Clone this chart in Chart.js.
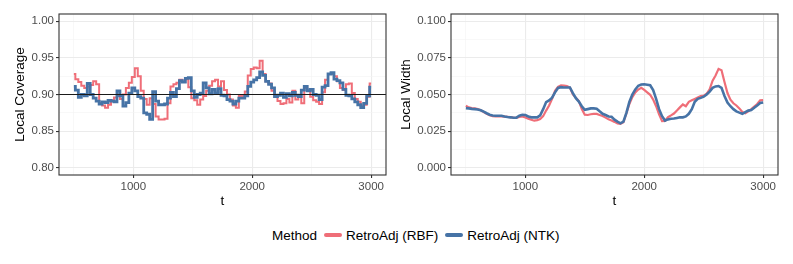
<!DOCTYPE html>
<html lang="en">
<head>
<meta charset="UTF-8">
<title>Local coverage and width</title>
<script src="https://cdn.jsdelivr.net/npm/chart.js"></script>
<style>
  body { margin: 0; background: #fff; font-family: 'Liberation Sans', Arial, sans-serif; }
  #wrap { position: relative; width: 793px; height: 264px; }
  #left { position: absolute; left: 0; top: 0; }
  #right { position: absolute; left: 395px; top: 0; }
  #legend { position: absolute; left: 272px; top: 226px; height: 18px; display: flex; align-items: center; font-size: 13.5px; color: #000; white-space: nowrap; }
  .key { display: inline-block; width: 18px; height: 4.5px; border-radius: 3px; margin: 0 4px 0 7px; }
</style>
</head>
<body>
<div id="wrap">
  <canvas id="left" width="395" height="210"></canvas>
  <canvas id="right" width="398" height="210"></canvas>
  <div id="legend">
    <span>Method</span>
    <span class="key" style="background:#EF6E78"></span><span>RetroAdj (RBF)</span>
    <span class="key" style="background:#4673A6"></span><span>RetroAdj (NTK)</span>
  </div>
</div>
<script>
// time index
const t = [
  500, 525, 550, 575, 600, 625, 650, 675, 700, 725,
  750, 775, 800, 825, 850, 875, 900, 925, 950, 975,
  1000, 1025, 1050, 1075, 1100, 1125, 1150, 1175, 1200, 1225,
  1250, 1275, 1300, 1325, 1350, 1375, 1400, 1425, 1450, 1475,
  1500, 1525, 1550, 1575, 1600, 1625, 1650, 1675, 1700, 1725,
  1750, 1775, 1800, 1825, 1850, 1875, 1900, 1925, 1950, 1975,
  2000, 2025, 2050, 2075, 2100, 2125, 2150, 2175, 2200, 2225,
  2250, 2275, 2300, 2325, 2350, 2375, 2400, 2425, 2450, 2475,
  2500, 2525, 2550, 2575, 2600, 2625, 2650, 2675, 2700, 2725,
  2750, 2775, 2800, 2825, 2850, 2875, 2900, 2925, 2950, 2975,
  3000
];

// local coverage
const coverageRBF = [
  0.928, 0.921, 0.917, 0.912, 0.909, 0.911, 0.913, 0.918, 0.914, 0.888,
  0.885, 0.882, 0.886, 0.892, 0.896, 0.898, 0.894, 0.900, 0.909, 0.916,
  0.924, 0.936, 0.925, 0.905, 0.894, 0.886, 0.895, 0.887, 0.870, 0.866,
  0.866, 0.867, 0.888, 0.911, 0.914, 0.916, 0.920, 0.917, 0.921, 0.910,
  0.895, 0.892, 0.886, 0.893, 0.898, 0.905, 0.912, 0.918, 0.920, 0.911,
  0.918, 0.906, 0.900, 0.893, 0.885, 0.882, 0.898, 0.898, 0.904, 0.926,
  0.935, 0.937, 0.936, 0.946, 0.928, 0.918, 0.915, 0.905, 0.897, 0.891,
  0.887, 0.888, 0.894, 0.889, 0.905, 0.893, 0.899, 0.888, 0.909, 0.905,
  0.897, 0.892, 0.890, 0.887, 0.903, 0.920, 0.928, 0.928, 0.925, 0.918,
  0.909, 0.906, 0.914, 0.915, 0.902, 0.894, 0.890, 0.884, 0.886, 0.897,
  0.915
];
const coverageNTK = [
  0.911, 0.906, 0.896, 0.900, 0.898, 0.915, 0.900, 0.895, 0.891, 0.887,
  0.890, 0.889, 0.892, 0.891, 0.890, 0.905, 0.898, 0.884, 0.889, 0.902,
  0.909, 0.905, 0.897, 0.895, 0.875, 0.873, 0.866, 0.904, 0.891, 0.886,
  0.886, 0.887, 0.895, 0.903, 0.897, 0.908, 0.919, 0.917, 0.922, 0.923,
  0.905, 0.896, 0.900, 0.902, 0.916, 0.909, 0.901, 0.907, 0.902, 0.908,
  0.899, 0.898, 0.893, 0.891, 0.887, 0.891, 0.895, 0.895, 0.898, 0.911,
  0.917, 0.920, 0.923, 0.931, 0.926, 0.918, 0.914, 0.909, 0.897, 0.899,
  0.902, 0.896, 0.901, 0.898, 0.903, 0.899, 0.897, 0.906, 0.911, 0.905,
  0.907, 0.900, 0.899, 0.893, 0.910, 0.912, 0.928, 0.930, 0.921, 0.919,
  0.916, 0.907, 0.899, 0.898, 0.894, 0.890, 0.886, 0.882, 0.888, 0.898,
  0.910
];
const targetCoverage = 0.9;

// local width
const widthRBF = [
  0.0423, 0.0412, 0.0408, 0.0405, 0.0400, 0.0392, 0.0380, 0.0368, 0.0358, 0.0352,
  0.0350, 0.0350, 0.0350, 0.0349, 0.0347, 0.0345, 0.0342, 0.0341, 0.0346, 0.0350,
  0.0343, 0.0334, 0.0327, 0.0321, 0.0325, 0.0333, 0.0352, 0.0390, 0.0425, 0.0470,
  0.0525, 0.0552, 0.0563, 0.0561, 0.0557, 0.0548, 0.0500, 0.0478, 0.0455, 0.0400,
  0.0362, 0.0360, 0.0365, 0.0367, 0.0367, 0.0360, 0.0353, 0.0342, 0.0330, 0.0322,
  0.0313, 0.0303, 0.0299, 0.0310, 0.0370, 0.0435, 0.0482, 0.0514, 0.0534, 0.0546,
  0.0532, 0.0515, 0.0498, 0.0465, 0.0420, 0.0365, 0.0318, 0.0320, 0.0345, 0.0357,
  0.0370, 0.0390, 0.0412, 0.0432, 0.0420, 0.0450, 0.0460, 0.0470, 0.0480, 0.0490,
  0.0492, 0.0505, 0.0535, 0.0595, 0.0630, 0.0675, 0.0665, 0.0585, 0.0510, 0.0465,
  0.0440, 0.0425, 0.0405, 0.0380, 0.0372, 0.0385, 0.0400, 0.0418, 0.0435, 0.0460,
  0.0462
];
const widthNTK = [
  0.0407, 0.0405, 0.0402, 0.0400, 0.0398, 0.0392, 0.0383, 0.0372, 0.0362, 0.0357,
  0.0355, 0.0355, 0.0355, 0.0350, 0.0346, 0.0344, 0.0341, 0.0342, 0.0355, 0.0362,
  0.0360, 0.0350, 0.0344, 0.0344, 0.0344, 0.0358, 0.0400, 0.0448, 0.0460, 0.0478,
  0.0515, 0.0545, 0.0550, 0.0548, 0.0548, 0.0548, 0.0510, 0.0475, 0.0452, 0.0420,
  0.0395, 0.0400, 0.0405, 0.0405, 0.0403, 0.0385, 0.0368, 0.0360, 0.0350, 0.0348,
  0.0328, 0.0315, 0.0303, 0.0315, 0.0375, 0.0450, 0.0500, 0.0535, 0.0560, 0.0568,
  0.0570, 0.0567, 0.0563, 0.0530, 0.0470, 0.0400, 0.0352, 0.0322, 0.0330, 0.0334,
  0.0336, 0.0340, 0.0344, 0.0344, 0.0350, 0.0368, 0.0400, 0.0450, 0.0470, 0.0477,
  0.0485, 0.0500, 0.0520, 0.0545, 0.0555, 0.0558, 0.0545, 0.0490, 0.0445, 0.0420,
  0.0400, 0.0385, 0.0376, 0.0368, 0.0380, 0.0390, 0.0394, 0.0410, 0.0425, 0.0442,
  0.0446
];

// axis breaks
const xMajor = [1000, 2000, 3000];
const xMinor = [500, 1500, 2500];
const covMajor = [0.80, 0.85, 0.90, 0.95, 1.00];
const covMinor = [0.825, 0.875, 0.925, 0.975];
const widMajor = [0, 0.025, 0.05, 0.075, 0.1];
const widMinor = [0.0125, 0.0375, 0.0625, 0.0875];

const RED = '#EF6E78';
const BLUE = '#4673A6';

Chart.defaults.font.family = "'Liberation Sans', Arial, sans-serif";
Chart.defaults.animation = false;

const isIn = (list, v) => list.some(m => Math.abs(m - v) < 1e-9);
const pts = (ys) => t.map((x, i) => ({ x: x, y: ys[i] }));

// ggplot-style panel border, drawn over the lines
const framePlugin = {
  id: 'frame',
  afterDatasetsDraw(chart) {
    const { ctx, chartArea: a } = chart;
    ctx.save();
    ctx.strokeStyle = '#333333';
    ctx.lineWidth = 1.1;
    ctx.strokeRect(a.left, a.top, a.right - a.left, a.bottom - a.top);
    ctx.restore();
  }
};

function gridFor(major) {
  return {
    color: c => isIn(major, c.tick.value) ? '#EBEBEB' : '#F3F3F3',
    lineWidth: c => isIn(major, c.tick.value) ? 1.1 : 0.6,
    tickColor: c => isIn(major, c.tick.value) ? '#333333' : 'rgba(0,0,0,0)',
    tickLength: 3
  };
}

function makeChart(id, datasets, opt) {
  return new Chart(document.getElementById(id), {
    type: 'line',
    data: { datasets: datasets },
    options: {
      responsive: false,
      layout: { padding: { top: 14, right: opt.padRight, left: 0, bottom: 0 } },
      plugins: { legend: { display: false }, tooltip: { enabled: false } },
      elements: { point: { radius: 0 }, line: { tension: 0 } },
      scales: {
        x: {
          type: 'linear', min: 375, max: 3125,
          afterBuildTicks: s => { s.ticks = xMinor.concat(xMajor).sort((a, b) => a - b).map(v => ({ value: v })); },
          afterFit: s => { s.height = 35; },
          ticks: {
            autoSkip: false, maxRotation: 0, padding: 2, color: '#4D4D4D',
            font: { size: 11.5 },
            callback: v => isIn(xMajor, v) ? String(v) : ''
          },
          grid: gridFor(xMajor),
          border: { display: false },
          title: { display: true, text: 't', color: '#000', font: { size: 13.5 }, padding: { top: 0, bottom: 1 } }
        },
        y: {
          type: 'linear', min: opt.yMin, max: opt.yMax,
          afterBuildTicks: s => { s.ticks = opt.minor.concat(opt.major).sort((a, b) => a - b).map(v => ({ value: v })); },
          afterFit: s => { s.width = opt.axisWidth; },
          ticks: {
            autoSkip: false, padding: 2, color: '#4D4D4D',
            font: { size: 11.5 },
            callback: v => isIn(opt.major, v) ? v.toFixed(opt.digits) : ''
          },
          grid: gridFor(opt.major),
          border: { display: false },
          title: { display: true, text: opt.title, color: '#000', font: { size: 13.5 }, padding: { top: opt.titlePad, bottom: 0 } }
        }
      }
    },
    plugins: [framePlugin]
  });
}

makeChart('left', [
  { label: 'target', data: [{ x: 375, y: targetCoverage }, { x: 3125, y: targetCoverage }], borderColor: '#1A1A1A', borderWidth: 1.2, order: 0 },
  { label: 'RetroAdj (NTK)', data: pts(coverageNTK), borderColor: BLUE, borderWidth: 2.8, stepped: 'middle', order: 1 },
  { label: 'RetroAdj (RBF)', data: pts(coverageRBF), borderColor: RED, borderWidth: 2, stepped: 'middle', order: 2 }
], { yMin: 0.79, yMax: 1.01, major: covMajor, minor: covMinor, digits: 2, title: 'Local Coverage', axisWidth: 59, titlePad: 12, padRight: 9 });

makeChart('right', [
  { label: 'RetroAdj (NTK)', data: pts(widthNTK), borderColor: BLUE, borderWidth: 2.6, order: 1 },
  { label: 'RetroAdj (RBF)', data: pts(widthRBF), borderColor: RED, borderWidth: 2.2, order: 2 }
], { yMin: -0.005, yMax: 0.105, major: widMajor, minor: widMinor, digits: 3, title: 'Local Width', axisWidth: 56, titlePad: 3, padRight: 15 });
</script>
</body>
</html>
